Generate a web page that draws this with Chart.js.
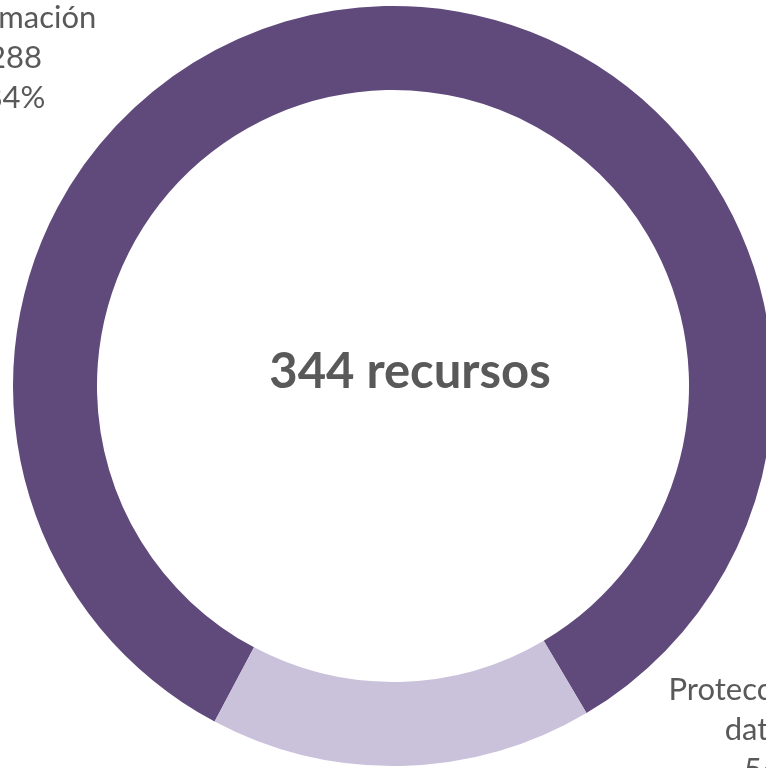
<!DOCTYPE html>
<html>
<head>
<meta charset="utf-8">
<script src="https://cdn.jsdelivr.net/npm/chart.js@4.4.1/dist/chart.umd.min.js"></script>
<style>
  html, body { margin: 0; padding: 0; background: #ffffff; overflow: hidden; width: 766px; height: 768px; }
  #wrap { position: absolute; left: 0; top: 0; width: 800px; height: 800px; }
</style>
</head>
<body>
<div id="wrap"><canvas id="c"></canvas></div>
<script>
const categories = ['Información', 'Protección de datos'];
const labelLines = [['Información'], ['Protección de', 'datos']];
const values = [288, 56];
const colors = ['#5F4A7B', '#CAC1DB'];
const centerText = '344 recursos';

const total = values.reduce((a, b) => a + b, 0);

const labelPlugin = {
  id: 'labels',
  afterDraw(chart) {
    const ctx = chart.ctx;
    const arc = chart.getDatasetMeta(0).data[0];
    const cx = arc.x, cy = arc.y;
    ctx.save();
    // centre text
    ctx.fillStyle = '#595959';
    ctx.font = 'bold 49px Lato';
    ctx.textAlign = 'center';
    ctx.textBaseline = 'alphabetic';
    ctx.fillText(centerText, cx + 17, cy + 2);
    // outside labels
    ctx.font = '31px Lato';
    const anchors = [[-378, -358], [369, 314]];
    values.forEach((v, i) => {
      const lines = labelLines[i].concat([String(v), Math.round(v / total * 100) + '%']);
      lines.forEach((t, j) => {
        ctx.fillText(t, cx + anchors[i][0], cy + anchors[i][1] + j * 40);
      });
    });
    ctx.restore();
  }
};

new Chart(document.getElementById('c'), {
  type: 'doughnut',
  data: {
    labels: categories,
    datasets: [{
      data: values,
      backgroundColor: colors,
      borderWidth: 0,
      hoverOffset: 0
    }]
  },
  options: {
    responsive: true,
    maintainAspectRatio: false,
    animation: false,
    rotation: 208,
    cutout: '77.9%',
    layout: { padding: { left: 13, top: 6, right: 27, bottom: 34 } },
    plugins: {
      legend: { display: false },
      tooltip: { enabled: false }
    }
  },
  plugins: [labelPlugin]
});
</script>
</body>
</html>
